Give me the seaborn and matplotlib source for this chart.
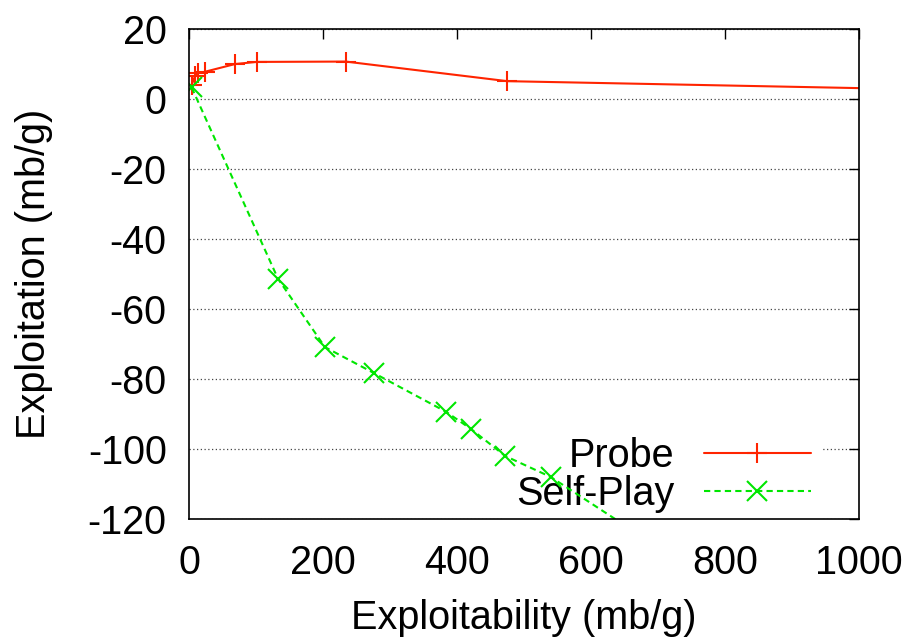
import pandas as pd
import seaborn as sns
import matplotlib.pyplot as plt
from matplotlib.lines import Line2D

probe_x = [4, 9, 14, 24, 69, 101, 234, 475, 1480]
probe_y = [4.0, 6.6, 7.4, 7.8, 10.0, 10.6, 10.7, 5.1, 1.3]
self_x = [4, 133, 203, 276, 384, 421, 472, 540, 700]
self_y = [3.3, -51.4, -70.9, -78.3, -89.4, -94.3, -102.0, -108.0, -128.0]

red = '#ff2400'
green = '#00e600'

df = pd.concat([
    pd.DataFrame({'x': probe_x, 'y': probe_y, 'name': 'Probe'}),
    pd.DataFrame({'x': self_x, 'y': self_y, 'name': 'Self-Play'}),
])

sns.set_style('white')
plt.rcParams['font.family'] = ['Liberation Sans', 'DejaVu Sans']
plt.rcParams['axes.unicode_minus'] = False
plt.rcParams['text.color'] = 'black'
plt.rcParams['axes.labelcolor'] = 'black'

fig = plt.figure(figsize=(9.12, 6.42), dpi=100)
ax = fig.add_axes([0.2072, 0.1916, 0.7347, 0.7632])

sns.lineplot(data=df, x='x', y='y', hue='name', style='name', sort=False,
             palette={'Probe': red, 'Self-Play': green},
             markers={'Probe': '+', 'Self-Play': 'x'},
             dashes={'Probe': '', 'Self-Play': (3, 2)},
             markersize=15, markeredgewidth=1.5, linewidth=1.5,
             legend=False, ax=ax)
# seaborn paints unfilled marker edges white; give them the line colour
for ln in ax.lines:
    ln.set_markeredgecolor(ln.get_color())

ax.set_xlim(0, 1000)
ax.set_ylim(-120, 20)
ax.set_xticks(range(0, 1001, 200))
ax.set_yticks(range(-120, 21, 20))
ax.yaxis.grid(True, linestyle=(0, (1, 2)), color='#444444', linewidth=0.9)
ax.set_axisbelow(True)
ax.tick_params(direction='in', length=7, width=1, top=True, right=True,
               labelsize=28.5, colors='black')
ax.tick_params(axis='y', pad=16)
ax.tick_params(axis='x', pad=18)
for s in ax.spines.values():
    s.set_color('black')
    s.set_linewidth(1.2)

ax.set_xlabel('Exploitability (mb/g)', fontsize=28.5, labelpad=12)
ax.set_ylabel('Exploitation (mb/g)', fontsize=28.5, labelpad=25)

handles = [
    Line2D([], [], color=red, marker='+', markersize=15, mew=1.5, lw=1.5),
    Line2D([], [], color=green, marker='x', markersize=15, mew=1.5, lw=1.5,
           dashes=(3, 2)),
]
leg = ax.legend(handles, ['Probe', 'Self-Play'], loc='lower right',
                bbox_to_anchor=(0.975, -0.052), markerfirst=False,
                fontsize=28.5, handlelength=2.7, handletextpad=0.75,
                labelspacing=0.0, frameon=True, framealpha=1,
                facecolor='white', edgecolor='none', borderpad=0.3)
leg.set_zorder(1.5)

fig.savefig('out.png', dpi=100)
